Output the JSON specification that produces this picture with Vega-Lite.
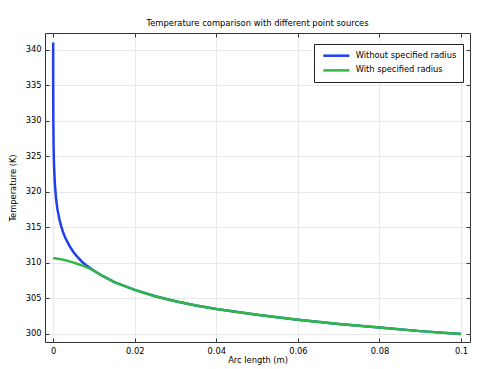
{
  "$schema": "https://vega.github.io/schema/vega-lite/v6.json",
  "width": 425,
  "height": 309,
  "autosize": "none",
  "padding": {"left": 45, "top": 33, "right": 7, "bottom": 27},
  "config": {
    "font": "DejaVu Sans",
    "view": {"stroke": "#333333", "strokeWidth": 1},
    "axis": {"labelFont": "DejaVu Sans", "titleFont": "DejaVu Sans", "labelFontSize": 8.3, "titleFontSize": 8.3, "titleFontWeight": "normal", "labelColor": "#000000", "titleColor": "#000000", "tickColor": "#333333", "domain": false, "gridColor": "#e8e8e8", "gridWidth": 1}
  },
  "title": {"text": "Temperature comparison with different point sources", "fontSize": 8.4, "fontWeight": "normal", "font": "DejaVu Sans", "color": "#000000", "offset": 5},
  "data": {"values": [
    {"series": "Without specified radius", "x": 0.0000025, "T": 341.0},
    {"series": "Without specified radius", "x": 0.00001, "T": 335.5},
    {"series": "Without specified radius", "x": 0.00003, "T": 331.2},
    {"series": "Without specified radius", "x": 0.0001, "T": 326.6},
    {"series": "Without specified radius", "x": 0.0002, "T": 323.9},
    {"series": "Without specified radius", "x": 0.0004, "T": 321.3},
    {"series": "Without specified radius", "x": 0.0007, "T": 319.1},
    {"series": "Without specified radius", "x": 0.001, "T": 317.7},
    {"series": "Without specified radius", "x": 0.0015, "T": 316.2},
    {"series": "Without specified radius", "x": 0.002, "T": 315.1},
    {"series": "Without specified radius", "x": 0.0025, "T": 314.2},
    {"series": "Without specified radius", "x": 0.003, "T": 313.5},
    {"series": "Without specified radius", "x": 0.004, "T": 312.4},
    {"series": "Without specified radius", "x": 0.005, "T": 311.5},
    {"series": "Without specified radius", "x": 0.006, "T": 310.8},
    {"series": "Without specified radius", "x": 0.007, "T": 310.2},
    {"series": "Without specified radius", "x": 0.008, "T": 309.7},
    {"series": "Without specified radius", "x": 0.009, "T": 309.3},
    {"series": "Without specified radius", "x": 0.01, "T": 308.9},
    {"series": "Without specified radius", "x": 0.012, "T": 308.2},
    {"series": "Without specified radius", "x": 0.015, "T": 307.3},
    {"series": "Without specified radius", "x": 0.02, "T": 306.2},
    {"series": "Without specified radius", "x": 0.025, "T": 305.3},
    {"series": "Without specified radius", "x": 0.03, "T": 304.6},
    {"series": "Without specified radius", "x": 0.035, "T": 304.0},
    {"series": "Without specified radius", "x": 0.04, "T": 303.5},
    {"series": "Without specified radius", "x": 0.05, "T": 302.7},
    {"series": "Without specified radius", "x": 0.06, "T": 302.0},
    {"series": "Without specified radius", "x": 0.07, "T": 301.4},
    {"series": "Without specified radius", "x": 0.08, "T": 300.9},
    {"series": "Without specified radius", "x": 0.09, "T": 300.4},
    {"series": "Without specified radius", "x": 0.1, "T": 300.0},
    {"series": "With specified radius", "x": 0.0, "T": 310.65},
    {"series": "With specified radius", "x": 0.0005, "T": 310.64},
    {"series": "With specified radius", "x": 0.001, "T": 310.6},
    {"series": "With specified radius", "x": 0.0015, "T": 310.56},
    {"series": "With specified radius", "x": 0.002, "T": 310.5},
    {"series": "With specified radius", "x": 0.003, "T": 310.37},
    {"series": "With specified radius", "x": 0.004, "T": 310.21},
    {"series": "With specified radius", "x": 0.005, "T": 310.04},
    {"series": "With specified radius", "x": 0.006, "T": 309.85},
    {"series": "With specified radius", "x": 0.007, "T": 309.65},
    {"series": "With specified radius", "x": 0.008, "T": 309.44},
    {"series": "With specified radius", "x": 0.009, "T": 309.2},
    {"series": "With specified radius", "x": 0.01, "T": 308.9},
    {"series": "With specified radius", "x": 0.012, "T": 308.2},
    {"series": "With specified radius", "x": 0.015, "T": 307.3},
    {"series": "With specified radius", "x": 0.02, "T": 306.2},
    {"series": "With specified radius", "x": 0.025, "T": 305.3},
    {"series": "With specified radius", "x": 0.03, "T": 304.6},
    {"series": "With specified radius", "x": 0.035, "T": 304.0},
    {"series": "With specified radius", "x": 0.04, "T": 303.5},
    {"series": "With specified radius", "x": 0.05, "T": 302.7},
    {"series": "With specified radius", "x": 0.06, "T": 302.0},
    {"series": "With specified radius", "x": 0.07, "T": 301.4},
    {"series": "With specified radius", "x": 0.08, "T": 300.9},
    {"series": "With specified radius", "x": 0.09, "T": 300.4},
    {"series": "With specified radius", "x": 0.1, "T": 300.0}
  ]},
  "resolve": {"axis": {"x": "independent", "y": "independent"}},
  "layer": [
    {
      "transform": [{"filter": "datum.series === 'Without specified radius'"}],
      "mark": {"type": "line", "strokeWidth": 2.5, "clip": true},
      "encoding": {
        "x": {"field": "x", "type": "quantitative", "scale": {"domain": [-0.002, 0.1022], "nice": false, "zero": false},
              "axis": {"title": "Arc length (m)", "orient": "bottom", "values": [0, 0.02, 0.04, 0.06, 0.08, 0.1], "format": "~g", "tickSize": -4, "labelPadding": 8, "titlePadding": 1}},
        "y": {"field": "T", "type": "quantitative", "scale": {"domain": [298.87, 342.35], "nice": false, "zero": false},
              "axis": {"title": "Temperature (K)", "orient": "left", "values": [300, 305, 310, 315, 320, 325, 330, 335, 340], "tickSize": -4, "labelPadding": 8, "titlePadding": 8}},
        "color": {"field": "series", "type": "nominal",
                  "scale": {"domain": ["Without specified radius", "With specified radius"], "range": ["#1f3fef", "#2fb845"]},
                  "legend": {"title": null, "orient": "none", "legendX": 269, "legendY": 11, "symbolType": "M-0.57,0H5.7", "symbolSize": 69, "symbolStrokeWidth": 2.5, "labelFontSize": 8.3, "labelFont": "DejaVu Sans", "labelColor": "#000000", "strokeColor": "#222222", "fillColor": "#ffffff", "padding": 6.2, "rowPadding": 3.7, "labelOffset": 24.5}}
      }
    },
    {
      "transform": [{"filter": "datum.series === 'With specified radius'"}],
      "mark": {"type": "line", "strokeWidth": 2.5, "clip": true},
      "encoding": {
        "x": {"field": "x", "type": "quantitative",
              "axis": {"title": null, "orient": "top", "values": [0, 0.02, 0.04, 0.06, 0.08, 0.1], "labels": false, "grid": false, "tickSize": -4}},
        "y": {"field": "T", "type": "quantitative",
              "axis": {"title": null, "orient": "right", "values": [300, 305, 310, 315, 320, 325, 330, 335, 340], "labels": false, "grid": false, "tickSize": -4}},
        "color": {"field": "series", "type": "nominal"}
      }
    }
  ]
}
